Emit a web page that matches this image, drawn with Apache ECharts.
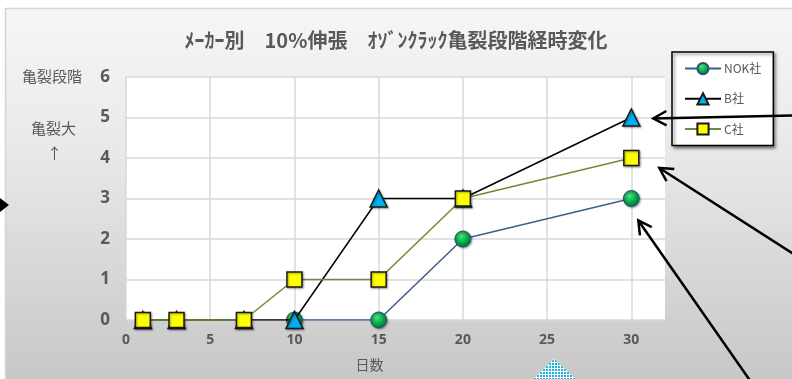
<!DOCTYPE html>
<html>
<head>
<meta charset="utf-8">
<script src="https://cdn.jsdelivr.net/npm/echarts@6/dist/echarts.min.js"></script>
<style>
html,body{margin:0;padding:0;background:#fff;}
#c{width:792px;height:379px;}
</style>
</head>
<body>
<div id="c"></div>
<script>
// ---- data ----
const titleText = 'ﾒｰｶｰ別　10%伸張　ｵｿﾞﾝｸﾗｯｸ亀裂段階経時変化';
const seriesNames = ['NOK社', 'B社', 'C社'];
const days = [1, 3, 7, 10, 15, 20, 30];
const nokValues = [null, null, null, 0, 0, 2, 3];
const bValues = [0, 0, 0, 0, 3, 3, 5];
const cValues = [0, 0, 0, 1, 1, 3, 4];
const xTicks = [0, 5, 10, 15, 20, 25, 30];
const yTicks = [0, 1, 2, 3, 4, 5, 6];
const xName = '日数';
const yName = '亀裂段階';
const yNote1 = '亀裂大';
const yNote2 = '↑';

function pairs(vals) {
  const out = [];
  vals.forEach((v, i) => { if (v !== null) out.push([days[i], v]); });
  return out;
}

const FONT = "'Open Sans','Noto Sans CJK JP',sans-serif";
const JFONT = "'Noto Sans CJK JP',sans-serif";
const GRAY = '#595959';

const chart = echarts.init(document.getElementById('c'), null, {renderer: 'canvas'});

// dotted cyan pattern
const pc = document.createElement('canvas');
pc.width = 3; pc.height = 3;
const pctx = pc.getContext('2d');
pctx.fillStyle = '#ffffff'; pctx.fillRect(0, 0, 3, 3);
pctx.fillStyle = '#1ab4e0'; pctx.fillRect(0, 0, 2, 2);

const option = {
  animation: false,
  backgroundColor: '#ffffff',
  title: {
    text: titleText,
    left: 'center',
    top: 25,
    textStyle: {fontFamily: JFONT, fontSize: 20, fontWeight: 'bold', color: GRAY}
  },
  grid: {
    left: 126, right: 127, top: 77, bottom: 59,
    show: true, backgroundColor: '#ffffff', borderWidth: 0
  },
  legend: {
    orient: 'vertical',
    left: 672, top: 52,
    padding: [10, 12, 10, 12],
    itemGap: 17,
    itemWidth: 36, itemHeight: 14,
    backgroundColor: '#ffffff',
    borderColor: '#000000', borderWidth: 1.5,
    shadowColor: 'rgba(0,0,0,0.45)', shadowBlur: 3, shadowOffsetX: 2, shadowOffsetY: 2,
    textStyle: {fontFamily: JFONT, fontSize: 12, color: GRAY, padding: [0, 10, 0, -2]},
    data: seriesNames
  },
  xAxis: {
    type: 'value',
    min: 0, max: 32, interval: 5,
    name: xName,
    nameLocation: 'middle',
    nameGap: 38,
    nameTextStyle: {fontFamily: JFONT, fontSize: 14, color: GRAY, padding: [0, 52, 0, 0]},
    axisLine: {show: false},
    axisTick: {show: false, customValues: xTicks},
    axisLabel: {customValues: xTicks, margin: 13, fontFamily: FONT, fontSize: 14, fontWeight: 'bold', color: GRAY},
    splitLine: {show: true, lineStyle: {color: '#d9d9d9', width: 1.5}}
  },
  yAxis: {
    type: 'value',
    min: 0, max: 6, interval: 1,
    axisLine: {show: false},
    axisTick: {show: false},
    axisLabel: {margin: 16, fontFamily: FONT, fontSize: 17, fontWeight: 'bold', color: GRAY,
      formatter: v => yTicks.includes(v) ? String(v) : ''},
    splitLine: {show: true, lineStyle: {color: '#d9d9d9', width: 1.5}}
  },
  series: [
    {
      name: seriesNames[0], type: 'line', data: pairs(nokValues),
      symbol: 'circle', symbolSize: 16,
      lineStyle: {color: '#3d5f8c', width: 1.5},
      itemStyle: {
        color: {type: 'radial', x: 0.4, y: 0.35, r: 0.65, colorStops: [
          {offset: 0, color: '#4fe07f'}, {offset: 0.6, color: '#00a845'}, {offset: 1, color: '#00733a'}]},
        borderColor: '#2e4f7a', borderWidth: 1,
        shadowColor: 'rgba(0,0,0,0.35)', shadowBlur: 2, shadowOffsetX: 1, shadowOffsetY: 1
      },
      z: 2
    },
    {
      name: seriesNames[1], type: 'line', data: pairs(bValues),
      symbol: 'triangle', symbolSize: 17,
      lineStyle: {color: '#000000', width: 1.5},
      itemStyle: {color: '#00b0f0', borderColor: '#1a1a1a', borderWidth: 1.5,
        shadowColor: 'rgba(0,0,0,0.35)', shadowBlur: 2, shadowOffsetX: 1, shadowOffsetY: 1},
      z: 3
    },
    {
      name: seriesNames[2], type: 'line', data: pairs(cValues),
      symbol: 'rect', symbolSize: 15,
      lineStyle: {color: '#6f8a3a', width: 1.5},
      itemStyle: {color: '#ffff00', borderColor: '#1a1a1a', borderWidth: 1.5,
        shadowColor: 'rgba(0,0,0,0.35)', shadowBlur: 2, shadowOffsetX: 1, shadowOffsetY: 1},
      z: 4
    }
  ],
  graphic: [
    {
      type: 'rect', z: -10, silent: true,
      shape: {x: 5.5, y: 8.5, width: 800, height: 380},
      style: {
        fill: {type: 'linear', x: 0, y: 0, x2: 0, y2: 1, colorStops: [
          {offset: 0, color: '#f5f6f8'}, {offset: 0.35, color: '#eaeaeb'}, {offset: 1, color: '#c6c6c6'}]},
        stroke: '#d4d4d4', lineWidth: 1.5
      }
    },
    {type: 'text', left: 22, top: 69, style: {text: yName, fontFamily: JFONT, fontSize: 15, fill: GRAY}},
    {type: 'text', left: 31, top: 121, style: {text: yNote1, fontFamily: JFONT, fontSize: 15, fill: GRAY}},
    {type: 'text', left: 47, top: 146, style: {text: yNote2, fontFamily: JFONT, fontSize: 15, fill: GRAY}},
    {type: 'polygon', silent: true, shape: {points: [[0, 198], [9, 205], [0, 212]]}, style: {fill: '#000'}},
    {type: 'polygon', silent: true, z: 10, shape: {points: [[532, 380], [554, 359], [577, 380]]}, style: {fill: {image: pc, repeat: 'repeat'}}}
  ]
};
chart.setOption(option);

// annotation arrows anchored to the last data points
function arrow(tip, tail) {
  const ang = Math.atan2(tail[1] - tip[1], tail[0] - tip[0]);
  const L = 15, spread = 0.5;
  const p1 = [tip[0] + L * Math.cos(ang + spread), tip[1] + L * Math.sin(ang + spread)];
  const p2 = [tip[0] + L * Math.cos(ang - spread), tip[1] + L * Math.sin(ang - spread)];
  return [
    {type: 'line', silent: true, z: 20, shape: {x1: tail[0], y1: tail[1], x2: tip[0], y2: tip[1]}, style: {stroke: '#000', lineWidth: 2.5}},
    {type: 'polyline', silent: true, z: 20, shape: {points: [p1, tip, p2]}, style: {stroke: '#000', lineWidth: 2.5, fill: null}}
  ];
}
const lastIdx = days.length - 1;
const pB = chart.convertToPixel({gridIndex: 0}, [days[lastIdx], bValues[lastIdx]]);
const pC = chart.convertToPixel({gridIndex: 0}, [days[lastIdx], cValues[lastIdx]]);
const pN = chart.convertToPixel({gridIndex: 0}, [days[lastIdx], nokValues[lastIdx]]);
const extra = [].concat(
  arrow([pB[0] + 22, pB[1] + 1], [795, pB[1] - 2]),
  arrow([pC[0] + 28, pC[1] + 10], [795, pC[1] + 97]),
  arrow([pN[0] + 7, pN[1] + 22], [750, pN[1] + 182])
);
chart.setOption({graphic: option.graphic.concat(extra)});
</script>
</body>
</html>
